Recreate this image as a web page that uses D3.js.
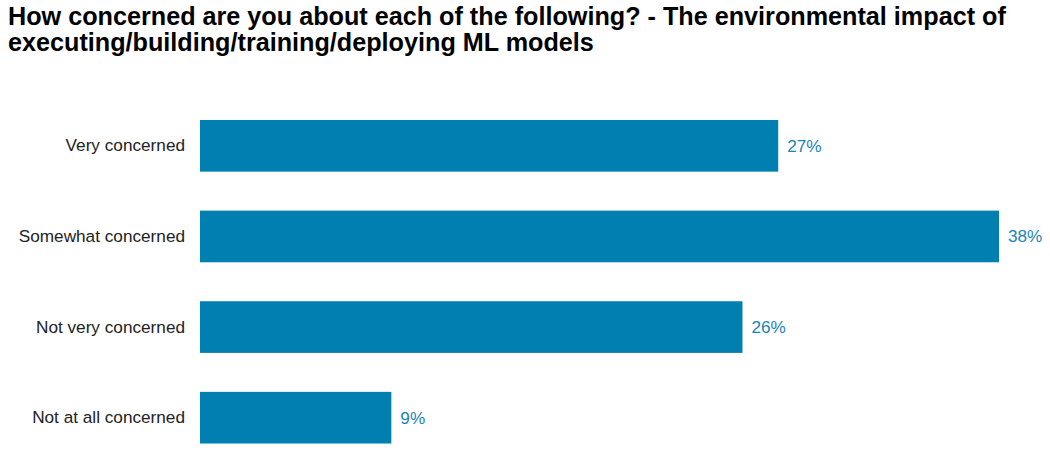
<!DOCTYPE html>
<html><head><meta charset="utf-8">
<script src="https://cdn.jsdelivr.net/npm/d3@7"></script>
<style>body{margin:0;background:#fff;} svg{display:block;font-family:"Liberation Sans",Arial,sans-serif;}</style>
</head><body>
<svg id="chart" width="1050" height="452"></svg>
<script>
const titleLines = ["How concerned are you about each of the following? - The environmental impact of", "executing/building/training/deploying ML models"];
const categories = ["Very concerned", "Somewhat concerned", "Not very concerned", "Not at all concerned"];
const values = [27.5, 38.0, 25.8, 9.1];
const valueLabels = ["27%", "38%", "26%", "9%"];

const svg = d3.select("#chart");
const x = d3.scaleLinear().domain([0, 38]).range([200, 999]);
const y = d3.scaleBand().domain(categories).range([100.5, 463]).paddingInner(0.43).paddingOuter(0.215);

svg.append("g").selectAll("text").data(titleLines).join("text")
  .attr("x", 8).attr("y", (d,i)=>24.5 + i*26)
  .attr("font-size", 25.2).attr("font-weight", "bold").attr("fill", "#000").text(d=>d);

svg.append("g").selectAll("rect").data(values).join("rect")
  .attr("x", x(0)).attr("y", (d,i)=>y(categories[i]))
  .attr("width", d=>x(d)-x(0)).attr("height", y.bandwidth())
  .attr("fill", "#0080b0");

const yAxis = d3.axisLeft(y).tickSize(0).tickPadding(15);
const ga = svg.append("g").attr("transform", `translate(${x(0)},0)`).call(yAxis);
ga.select(".domain").remove();
ga.selectAll("text").attr("font-size", 17.2).attr("fill", "#222").attr("font-family", "Liberation Sans, Arial, sans-serif");

svg.append("g").selectAll("text").data(values).join("text")
  .attr("x", d=>x(d)+9).attr("y", (d,i)=>y(categories[i]) + y.bandwidth()/2)
  .attr("dy", "0.35em").attr("font-size", 17.2).attr("fill", "#1a84b4").text((d,i)=>valueLabels[i]);
</script>
</body></html>
